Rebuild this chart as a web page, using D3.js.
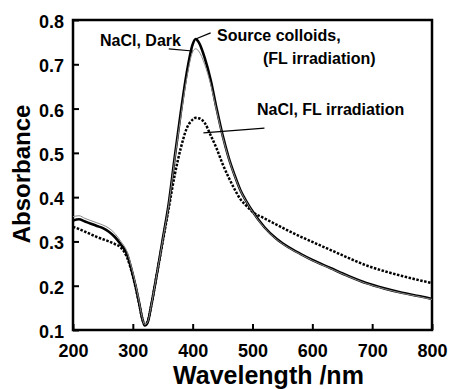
<!DOCTYPE html>
<html>
<head>
<meta charset="utf-8">
<script src="https://cdn.jsdelivr.net/npm/d3@7"></script>
<style>
  body { margin: 0; background: #fff; }
  text { font-family: "Liberation Sans", Arial, sans-serif; font-weight: bold; }
</style>
</head>
<body>
<div id="chart"></div>
<script>
// wavelength (nm) grid used for all three spectra
const wavelengths = [200,210,220,230,240,250,260,270,280,290,300,310,315,320,325,330,340,350,360,370,380,390,400,405,410,420,430,440,450,460,470,480,490,500,520,540,560,580,600,630,660,690,720,750,780,800];

// Source colloids (FL irradiation) - thick solid
const sourceFL = [0.347,0.350,0.345,0.340,0.335,0.330,0.322,0.310,0.293,0.272,0.225,0.165,0.130,0.110,0.118,0.150,0.225,0.305,0.385,0.490,0.590,0.680,0.745,0.757,0.750,0.715,0.665,0.600,0.540,0.490,0.450,0.415,0.390,0.368,0.332,0.306,0.287,0.272,0.258,0.240,0.222,0.206,0.194,0.184,0.176,0.170];

// NaCl, Dark - thin grey
const naclDark = [0.356,0.358,0.352,0.347,0.342,0.337,0.330,0.318,0.300,0.278,0.230,0.168,0.132,0.112,0.119,0.150,0.225,0.303,0.382,0.485,0.580,0.668,0.728,0.735,0.730,0.700,0.655,0.595,0.537,0.488,0.448,0.414,0.389,0.367,0.331,0.305,0.286,0.271,0.257,0.239,0.221,0.205,0.193,0.183,0.175,0.169];

// NaCl, FL irradiation - dotted
const naclFL = [0.333,0.328,0.322,0.316,0.310,0.305,0.300,0.294,0.286,0.265,0.222,0.163,0.130,0.112,0.120,0.150,0.225,0.300,0.375,0.450,0.510,0.555,0.575,0.579,0.578,0.568,0.540,0.510,0.475,0.445,0.418,0.395,0.380,0.367,0.352,0.338,0.324,0.311,0.299,0.281,0.263,0.246,0.233,0.222,0.212,0.206];

const xTicks = [200,300,400,500,600,700,800];
const yTicks = [0.1,0.2,0.3,0.4,0.5,0.6,0.7,0.8];

let margin = { top: 20, right: 20, bottom: 59, left: 73 },
  width = 452 - margin.left - margin.right,
  height = 389 - margin.top - margin.bottom;

let svg = d3.select("#chart").append("svg")
  .attr("width", 452)
  .attr("height", 389)
  .append("g")
  .attr("transform", "translate(" + margin.left + "," + margin.top + ")");

let x = d3.scaleLinear().domain([200, 800]).range([0, width]);
let y = d3.scaleLinear().domain([0.1, 0.8]).range([height, 0]);

// axes with inward ticks
let xAxis = svg.append("g")
  .attr("transform", "translate(0," + height + ")")
  .call(d3.axisBottom(x).tickValues(xTicks).tickSize(-6).tickPadding(14).tickFormat(d3.format("d")));
let yAxis = svg.append("g")
  .call(d3.axisLeft(y).tickValues(yTicks).tickSize(-6).tickPadding(9).tickFormat(d3.format(".1f")));

[xAxis, yAxis].forEach(a => {
  a.select(".domain").remove();
  a.selectAll(".tick line").attr("stroke", "#000").attr("stroke-width", 2);
  a.selectAll(".tick text").attr("font-size", 18).attr("fill", "#000")
    .style("font-family", "'Liberation Sans', Arial, sans-serif").style("font-weight", "bold");
});
yAxis.selectAll(".tick text").attr("dy", "0.42em");

// frame
svg.append("rect")
  .attr("x", 0).attr("y", 0)
  .attr("width", width).attr("height", height)
  .attr("fill", "none").attr("stroke", "#000").attr("stroke-width", 2.5);

// curves
function series(vals) { return wavelengths.map((w, i) => [w, vals[i]]); }
let line = d3.line()
  .x(d => x(d[0]))
  .y(d => y(d[1]))
  .curve(d3.curveMonotoneX);

svg.append("path").datum(series(naclFL))
  .attr("d", line).attr("fill", "none")
  .attr("stroke", "#000").attr("stroke-width", 2.5)
  .attr("stroke-dasharray", "2.5,1.5");

svg.append("path").datum(series(sourceFL))
  .attr("d", line).attr("fill", "none")
  .attr("stroke", "#000").attr("stroke-width", 2.6);

svg.append("path").datum(series(naclDark))
  .attr("d", line).attr("fill", "none")
  .attr("stroke", "#888").attr("stroke-width", 1);

// annotations and leader lines
let notes = svg.append("g").attr("font-size", 16).attr("fill", "#000");
notes.append("text").attr("x", 100 - margin.left).attr("y", 46 - margin.top).text("NaCl, Dark");
notes.append("text").attr("x", 217 - margin.left).attr("y", 41 - margin.top).text("Source colloids,");
notes.append("text").attr("x", 263 - margin.left).attr("y", 64 - margin.top).text("(FL irradiation)");
notes.append("text").attr("x", 257 - margin.left).attr("y", 115 - margin.top).text("NaCl, FL irradiation");

let leaders = [
  [[x(360), y(0.735)], [x(400), y(0.730)]],
  [[x(405), y(0.757)], [x(430), y(0.771)]],
  [[x(418), y(0.545)], [x(520), y(0.556)]]
];
svg.selectAll(".leader").data(leaders).enter().append("line")
  .attr("class", "leader")
  .attr("x1", d => d[0][0]).attr("y1", d => d[0][1])
  .attr("x2", d => d[1][0]).attr("y2", d => d[1][1])
  .attr("stroke", "#000").attr("stroke-width", 1.2);

// axis titles
svg.append("text")
  .attr("x", width / 2 + 16).attr("y", height + 54)
  .attr("text-anchor", "middle").attr("font-size", 25)
  .text("Wavelength /nm");
svg.append("text")
  .attr("transform", "translate(" + (30 - margin.left) + "," + (174 - margin.top) + ") rotate(-90)")
  .attr("text-anchor", "middle").attr("font-size", 24)
  .text("Absorbance");
</script>
</body>
</html>
